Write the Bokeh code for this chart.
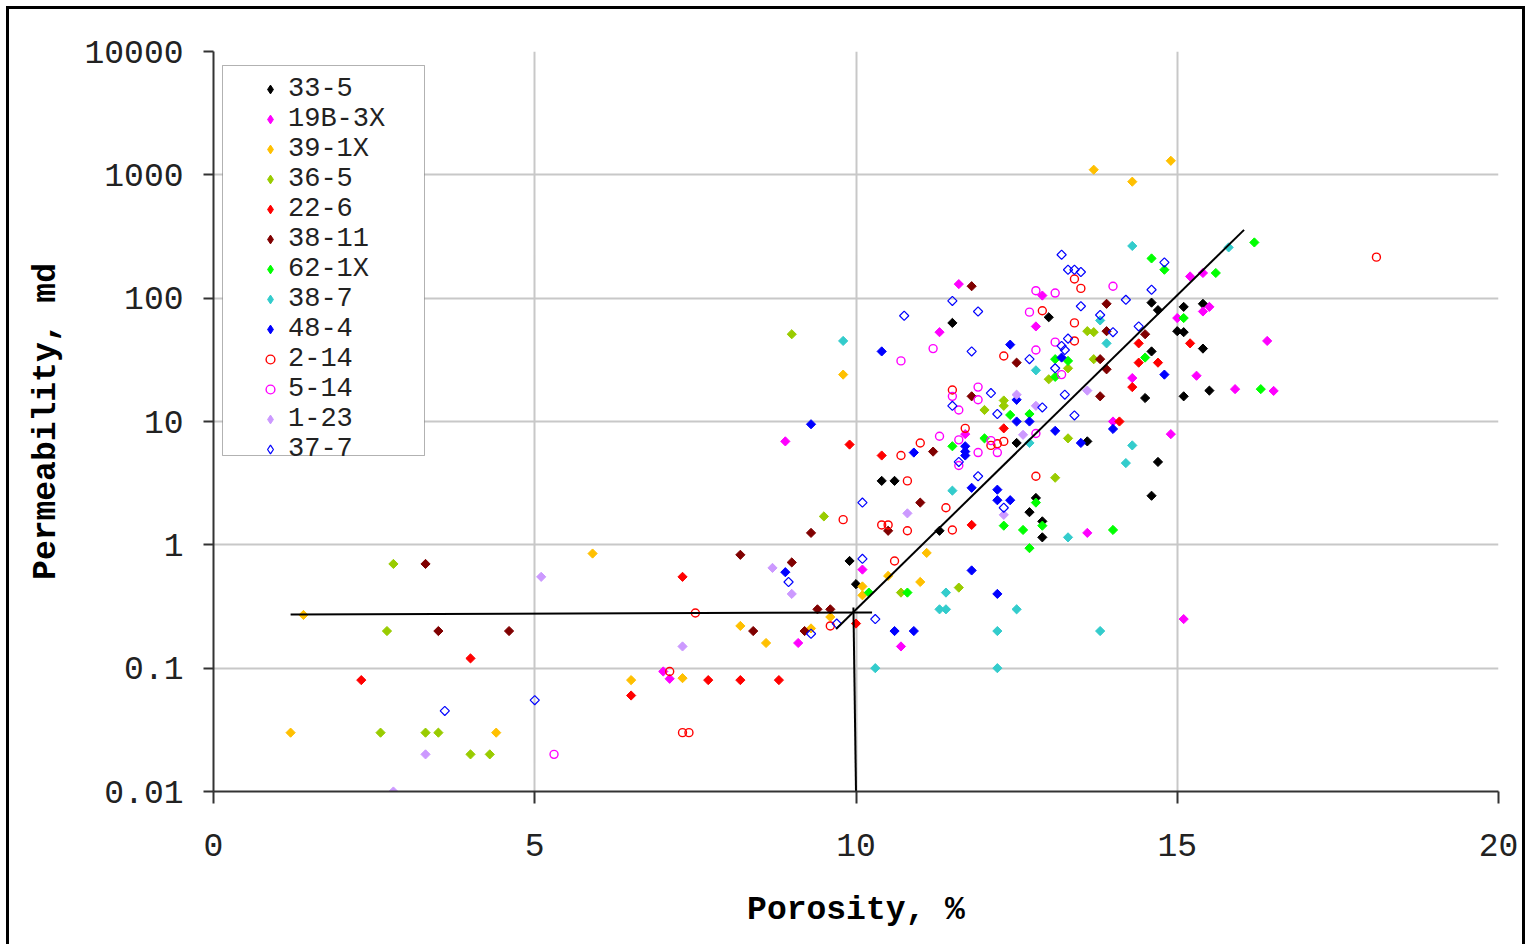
import math

from bokeh.plotting import figure
from bokeh.models import (FixedTicker, CustomJSTickFormatter, Legend, LegendItem,
                          BoxAnnotation, ColumnDataSource)
from bokeh.embed import file_html
from bokeh.resources import INLINE

# ---------------------------------------------------------------------------
# Core data: porosity (%) and permeability (md) per well
# ---------------------------------------------------------------------------
por_33_5 = [9.9, 10.0, 10.4, 10.6, 11.3, 11.5, 12.5, 12.7, 12.8, 12.9, 12.9, 13.0,
            13.6, 14.5, 14.6, 14.7, 14.6, 14.7, 14.6, 15.0, 15.1, 15.1, 15.4, 15.4,
            15.1, 15.5]
perm_33_5 = [0.74, 0.48, 3.3, 3.3, 1.3, 63, 6.7, 1.84, 2.4, 1.55, 1.15, 70,
             6.9, 15.5, 92, 80, 37, 4.7, 2.5, 54, 53, 85, 90, 39,
             16, 17.8]

por_19b_3x = [7.0, 7.1, 8.9, 9.1, 10.1, 10.7, 11.3, 11.6, 11.7, 12.8, 12.9, 13.6,
              14.0, 14.3, 14.9, 15.0, 15.1, 15.2, 15.3, 15.4, 15.4, 15.5, 15.9,
              16.4, 16.5]
perm_19b_3x = [0.094, 0.082, 6.9, 0.16, 0.63, 0.15, 53, 130, 7.9, 59, 105, 1.25,
               10, 22.5, 7.9, 69, 0.25, 150, 23.5, 160, 78, 85, 18.3,
               45, 17.7]

por_39_1x = [1.2, 1.4, 4.4, 5.9, 6.5, 7.3, 8.2, 8.6, 9.3, 9.6, 9.8, 10.1, 10.1,
             10.5, 11.0, 11.1, 13.7, 14.3, 14.9]
perm_39_1x = [0.03, 0.27, 0.03, 0.85, 0.08, 0.083, 0.22, 0.16, 0.21, 0.26, 24, 0.46, 0.39,
              0.56, 0.5, 0.86, 1100, 880, 1300]

por_36_5 = [2.6, 2.7, 2.8, 3.3, 3.5, 4.0, 4.3, 9.0, 9.5, 10.7, 11.6, 12.0, 12.3,
            12.3, 13.0, 13.1, 13.3, 13.3, 13.6, 13.7, 13.7]
perm_36_5 = [0.03, 0.2, 0.7, 0.03, 0.03, 0.02, 0.02, 51, 1.7, 0.41, 0.45, 12.4, 14.8,
             13.4, 22, 3.5, 27, 7.3, 54, 53, 32]

por_22_6 = [2.3, 4.0, 6.5, 7.3, 7.7, 8.2, 8.8, 9.9, 10.0, 10.4, 11.8, 12.3, 14.1,
            14.3, 14.4, 14.4, 14.7, 15.2]
perm_22_6 = [0.08, 0.12, 0.06, 0.55, 0.08, 0.08, 0.08, 6.5, 0.23, 5.3, 1.45, 8.8, 10,
             19, 43, 30, 30, 43]

por_38_11 = [3.3, 3.5, 4.6, 8.2, 8.4, 9.0, 9.2, 9.3, 9.4, 9.6, 10.5, 11.0, 11.2,
             11.8, 11.8, 12.5, 13.8, 13.9, 13.9, 13.9, 13.8, 14.5]
perm_38_11 = [0.7, 0.2, 0.2, 0.83, 0.2, 0.72, 0.2, 1.25, 0.3, 0.3, 1.3, 2.2, 5.7,
              125, 16, 30, 32, 90, 54, 26.5, 16, 51]

por_62_1x = [10.2, 10.8, 11.5, 12.0, 12.3, 12.4, 12.6, 12.7, 12.7, 12.8, 12.9, 13.1,
             13.1, 13.3, 14.0, 14.5, 14.6, 14.8, 15.1, 15.6, 16.2, 16.3]
perm_62_1x = [0.41, 0.41, 6.3, 7.3, 1.43, 11.3, 1.32, 11.5, 0.94, 2.2, 1.43, 32,
              23, 31, 1.32, 33, 210, 170, 69, 160, 283, 18.3]

por_38_7 = [9.8, 10.3, 11.3, 11.4, 11.4, 11.5, 12.2, 12.2, 12.5, 12.7, 12.8, 13.3,
            13.8, 13.8, 13.9, 14.2, 14.3, 14.3, 15.8]
perm_38_7 = [45, 0.1, 0.3, 0.3, 0.41, 2.75, 0.2, 0.1, 0.3, 6.7, 26, 1.15,
             66, 0.2, 43, 4.6, 6.4, 265, 258]

por_48_4 = [8.9, 9.3, 10.4, 10.6, 10.9, 10.9, 11.7, 11.7, 11.7, 11.8, 11.8, 12.2,
            12.2, 12.4, 12.2, 12.4, 12.5, 12.5, 12.7, 13.1, 13.2, 13.5, 14.0, 14.8]
perm_48_4 = [0.6, 9.5, 37, 0.2, 0.2, 5.6, 6.3, 5.7, 5.3, 2.9, 0.62, 2.8,
             2.3, 2.3, 0.4, 42, 15, 10, 10, 8.4, 33, 6.7, 8.7, 24]

por_2_14 = [7.1, 7.3, 7.4, 7.5, 9.6, 9.8, 10.4, 10.5, 10.6, 10.7, 10.8, 10.8, 11.0,
            11.4, 11.5, 11.5, 11.7, 12.1, 12.2, 12.3, 12.3, 12.8, 12.9, 13.4, 13.4,
            13.4, 13.5, 18.1]
perm_2_14 = [0.094, 0.03, 0.03, 0.28, 0.22, 1.6, 1.45, 1.45, 0.74, 5.3, 3.3, 1.3, 6.7,
             2.0, 1.32, 18, 8.8, 6.4, 6.6, 6.9, 34, 3.6, 79, 143, 63,
             45, 120, 215]

por_5_14 = [5.3, 10.7, 11.2, 11.3, 11.5, 11.6, 11.6, 11.6, 11.9, 11.9, 11.9, 12.1,
            12.2, 12.7, 12.8, 12.8, 12.8, 13.1, 13.1, 13.2, 14.0]
perm_5_14 = [0.02, 31, 39, 7.6, 16, 12.4, 7.1, 4.4, 19, 15, 5.6, 7.0,
             5.6, 77, 115, 38, 8.0, 110, 44, 24, 125]

por_1_23 = [2.8, 3.3, 5.1, 7.3, 8.7, 9.0, 10.8, 12.3, 12.5, 12.6, 12.8, 13.6]
perm_1_23 = [0.01, 0.02, 0.55, 0.15, 0.65, 0.4, 1.8, 1.75, 16.5, 7.8, 13.4, 17.8]

por_37_7 = [3.6, 5.0, 8.95, 9.3, 9.7, 10.1, 10.1, 10.3, 10.75, 11.5, 11.5, 11.6,
            11.8, 11.9, 11.9, 12.1, 12.2, 12.3, 12.7, 12.9, 13.1, 13.2, 13.2, 13.25,
            13.25, 13.3, 13.3, 13.4, 13.4, 13.5, 13.5, 13.8, 14.0, 14.2, 14.4, 14.6,
            14.8]
perm_37_7 = [0.045, 0.055, 0.5, 0.19, 0.23, 0.77, 2.2, 0.25, 72, 95, 13.4, 4.7,
             37, 78, 3.6, 17, 11.5, 2.0, 32, 13, 27, 225, 41, 38,
             16.5, 170, 47, 170, 11.2, 163, 86, 73, 53, 97, 59, 117,
             195]

# Fitted cut-off lines
cut_h_por = [1.2, 10.25]
cut_h_perm = [0.272, 0.283]
cut_v_por = [9.96, 10.0]
cut_v_perm = [0.31, 0.01]
trend_por = [9.69, 16.04]
trend_perm = [0.208, 358]

x_ticks = [0, 5, 10, 15, 20]
y_ticks = [0.01, 0.1, 1, 10, 100, 1000, 10000]

# (label, porosity, permeability, colour, style)
series = [
    ("33-5", por_33_5, perm_33_5, "#000000", "filled"),
    ("19B-3X", por_19b_3x, perm_19b_3x, "#FF00FF", "filled"),
    ("39-1X", por_39_1x, perm_39_1x, "#FFC000", "filled"),
    ("36-5", por_36_5, perm_36_5, "#99CC00", "filled"),
    ("22-6", por_22_6, perm_22_6, "#FF0000", "filled"),
    ("38-11", por_38_11, perm_38_11, "#800000", "filled"),
    ("62-1X", por_62_1x, perm_62_1x, "#00FF00", "filled"),
    ("38-7", por_38_7, perm_38_7, "#33CCCC", "filled"),
    ("48-4", por_48_4, perm_48_4, "#0000FF", "filled"),
    ("2-14", por_2_14, perm_2_14, "#FF0000", "circle"),
    ("5-14", por_5_14, perm_5_14, "#FF00FF", "circle"),
    ("1-23", por_1_23, perm_1_23, "#CC99FF", "filled"),
    ("37-7", por_37_7, perm_37_7, "#0000FF", "open"),
]

FONT = "Liberation Mono"

# the figure sits 9px in from the page corner; a black ring is drawn round it
p = figure(width=1513, height=935, x_range=(0, 20), y_range=(0.01, 10000),
           y_axis_type="log", output_backend="svg", toolbar_location=None,
           title=None, min_border_left=204, min_border_right=24,
           min_border_top=42, min_border_bottom=153)
p.margin = (9, 0, 0, 9)
p.styles = {"outline": "3px solid black", "outline-offset": "0px"}
p.outline_line_color = None
p.background_fill_color = "white"
p.border_fill_color = "white"

# axes
p.xaxis.ticker = FixedTicker(ticks=x_ticks)
p.yaxis.ticker = FixedTicker(ticks=y_ticks)
p.xgrid.ticker = FixedTicker(ticks=x_ticks)
p.ygrid.ticker = FixedTicker(ticks=y_ticks)
p.yaxis.formatter = CustomJSTickFormatter(
    code="return tick >= 1 ? tick.toFixed(0) : String(tick);")

for ax in (p.xaxis[0], p.yaxis[0]):
    ax.axis_line_color = "#333333"
    ax.axis_line_width = 2
    ax.major_tick_line_color = "#333333"
    ax.major_tick_line_width = 2
    ax.major_tick_in = 0
    ax.minor_tick_line_color = None
    ax.major_label_text_font = FONT
    ax.major_label_text_font_size = "33px"
    ax.major_label_text_color = "#222222"
    ax.axis_label_text_font = FONT
    ax.axis_label_text_font_style = "bold"
    ax.axis_label_text_font_size = "33px"
    ax.axis_label_text_color = "#000000"

p.xaxis.major_tick_out = 12
p.yaxis.major_tick_out = 10
p.xaxis.major_label_standoff = 30
p.yaxis.major_label_standoff = 20
p.xaxis.axis_label = "Porosity, %"
p.yaxis.axis_label = "Permeability, md"
p.xaxis.axis_label_standoff = 33
p.yaxis.axis_label_standoff = 16

for g in (p.xgrid[0], p.ygrid[0]):
    g.grid_line_color = "#C8C8C8"
    g.grid_line_width = 2

# legend frame (opaque, sits above the grid)
legend_frame = BoxAnnotation(left=213, right=415, top=56, bottom=446,
                             left_units="canvas", right_units="canvas",
                             top_units="canvas", bottom_units="canvas",
                             fill_color="white", fill_alpha=1.0,
                             line_color="black", line_width=1, level="glyph")
p.add_layout(legend_frame)

legend_items = []
for name, xs, ys, color, style in series:
    src = ColumnDataSource(data=dict(x=xs, y=ys))
    if style == "filled":
        p.scatter("x", "y", source=src, marker="square", angle=math.pi / 4,
                  size=6.5, fill_color=color, line_color=color, line_width=1)
        key = p.scatter("x", "y", source=src, marker="diamond", size=0,
                        fill_color=color, line_color=color, line_width=1)
    elif style == "open":
        p.scatter("x", "y", source=src, marker="square", angle=math.pi / 4,
                  size=6.5, fill_color=None, line_color=color, line_width=1.2)
        key = p.scatter("x", "y", source=src, marker="diamond", size=0,
                        fill_color=None, line_color=color, line_width=1.2)
    else:
        key = p.scatter("x", "y", source=src, marker="circle", size=8,
                        fill_color=None, line_color=color, line_width=1.4)
    legend_items.append(LegendItem(label=name, renderers=[key]))

p.line(cut_h_por, cut_h_perm, line_color="black", line_width=2)
p.line(cut_v_por, cut_v_perm, line_color="black", line_width=2)
p.line(trend_por, trend_perm, line_color="black", line_width=2)

legend = Legend(items=legend_items, location=(46, 327), orientation="vertical",
                glyph_width=22, glyph_height=30, label_height=30, spacing=0,
                padding=5, margin=0, label_standoff=7,
                label_text_font=FONT, label_text_font_size="27px",
                label_text_color="#222222",
                border_line_color=None, background_fill_alpha=0)
p.add_layout(legend)

# the legend box ends part-way through its last row
p.add_layout(BoxAnnotation(left=214, right=414.5, top=447, bottom=466,
                           left_units="canvas", right_units="canvas",
                           top_units="canvas", bottom_units="canvas",
                           fill_color="white", fill_alpha=1.0,
                           line_color=None, level="annotation"))

open("out.html", "w").write(file_html(p, INLINE))
